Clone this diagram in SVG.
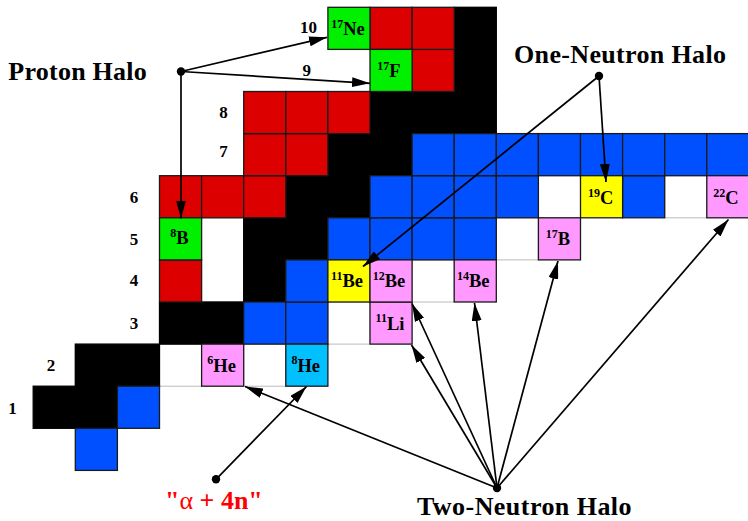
<svg xmlns="http://www.w3.org/2000/svg" width="748" height="521" viewBox="0 0 748 521">
<style>
.c{stroke:#1a1a1a;stroke-width:1.3}
.k{fill:#000;stroke:#000;stroke-width:1.3}
.w{fill:#fff;stroke:#bbb;stroke-width:1}
.b{fill:#0050ff}
.r{fill:#dd0000}
.g{fill:#00f000}
.y{fill:#ffff00}
.p{fill:#ff99ff}
.cy{fill:#00c0ff}
text{font-family:"Liberation Serif","Times New Roman",serif;font-weight:bold;fill:#000}
.lab{font-size:17px;text-anchor:middle}
.big{font-size:26px}
.nl{font-size:18.5px;text-anchor:middle}
.sup{font-size:12px}
.con line{stroke:#000;stroke-width:1.7}
</style>
<defs>
<marker id="ah" markerUnits="userSpaceOnUse" viewBox="0 0 18 10" refX="18" refY="5" markerWidth="18" markerHeight="10" orient="auto">
<path d="M0,0 L18,5 L0,10 z" fill="#000"/>
</marker>
</defs>
<g id="cells">
<rect class="w" x="201.6" y="217.8" width="42.1" height="84.2"/>
<rect class="w" x="159.5" y="344.1" width="42.1" height="42.1"/>
<rect class="w" x="243.7" y="344.1" width="42.1" height="42.1"/>
<rect class="w" x="327.9" y="302.0" width="42.1" height="42.1"/>
<rect class="w" x="412.1" y="259.9" width="42.1" height="42.1"/>
<rect class="w" x="496.3" y="217.8" width="42.1" height="42.1"/>
<rect class="w" x="538.4" y="175.7" width="42.1" height="42.1"/>
<rect class="w" x="664.7" y="175.7" width="42.1" height="42.1"/>
<g id="stable">
<rect class="k" x="33.2" y="386.2" width="84.2" height="42.1"/>
<rect class="k" x="75.3" y="344.1" width="84.2" height="42.1"/>
<rect class="k" x="159.5" y="302.0" width="84.2" height="42.1"/>
<rect class="k" x="243.7" y="259.9" width="42.1" height="42.1"/>
<rect class="k" x="243.7" y="217.8" width="84.2" height="42.1"/>
<rect class="k" x="285.8" y="175.7" width="84.2" height="42.1"/>
<rect class="k" x="327.9" y="133.6" width="84.2" height="42.1"/>
<rect class="k" x="370.0" y="91.5" width="126.3" height="42.1"/>
<rect class="k" x="454.2" y="7.3" width="42.1" height="84.2"/>
</g>
<rect class="c b" x="75.3" y="428.3" width="42.1" height="42.1"/>
<rect class="c b" x="117.4" y="386.2" width="42.1" height="42.1"/>
<rect class="c b" x="243.7" y="302.0" width="42.1" height="42.1"/>
<rect class="c b" x="285.8" y="302.0" width="42.1" height="42.1"/>
<rect class="c b" x="285.8" y="259.9" width="42.1" height="42.1"/>
<rect class="c b" x="327.9" y="217.8" width="42.1" height="42.1"/>
<rect class="c b" x="370.0" y="217.8" width="42.1" height="42.1"/>
<rect class="c b" x="412.1" y="217.8" width="42.1" height="42.1"/>
<rect class="c b" x="454.2" y="217.8" width="42.1" height="42.1"/>
<rect class="c b" x="370.0" y="175.7" width="42.1" height="42.1"/>
<rect class="c b" x="412.1" y="175.7" width="42.1" height="42.1"/>
<rect class="c b" x="454.2" y="175.7" width="42.1" height="42.1"/>
<rect class="c b" x="496.3" y="175.7" width="42.1" height="42.1"/>
<rect class="c b" x="622.6" y="175.7" width="42.1" height="42.1"/>
<rect class="c b" x="412.1" y="133.6" width="42.1" height="42.1"/>
<rect class="c b" x="454.2" y="133.6" width="42.1" height="42.1"/>
<rect class="c b" x="496.3" y="133.6" width="42.1" height="42.1"/>
<rect class="c b" x="538.4" y="133.6" width="42.1" height="42.1"/>
<rect class="c b" x="580.5" y="133.6" width="42.1" height="42.1"/>
<rect class="c b" x="622.6" y="133.6" width="42.1" height="42.1"/>
<rect class="c b" x="664.7" y="133.6" width="42.1" height="42.1"/>
<rect class="c b" x="706.8" y="133.6" width="42.1" height="42.1"/>
<rect class="c r" x="159.5" y="259.9" width="42.1" height="42.1"/>
<rect class="c r" x="159.5" y="175.7" width="42.1" height="42.1"/>
<rect class="c r" x="201.6" y="175.7" width="42.1" height="42.1"/>
<rect class="c r" x="243.7" y="175.7" width="42.1" height="42.1"/>
<rect class="c r" x="243.7" y="133.6" width="42.1" height="42.1"/>
<rect class="c r" x="285.8" y="133.6" width="42.1" height="42.1"/>
<rect class="c r" x="243.7" y="91.5" width="42.1" height="42.1"/>
<rect class="c r" x="285.8" y="91.5" width="42.1" height="42.1"/>
<rect class="c r" x="327.9" y="91.5" width="42.1" height="42.1"/>
<rect class="c r" x="412.1" y="49.4" width="42.1" height="42.1"/>
<rect class="c r" x="370.0" y="7.3" width="42.1" height="42.1"/>
<rect class="c r" x="412.1" y="7.3" width="42.1" height="42.1"/>
</g>
<g id="n-6He"><rect class="c p" x="201.6" y="344.1" width="42.1" height="42.1"/><text class="nl" x="221.6" y="371.6"><tspan class="sup" dy="-7.5">6</tspan><tspan dy="7.5">He</tspan></text></g>
<g id="n-8He"><rect class="c cy" x="285.8" y="344.1" width="42.1" height="42.1"/><text class="nl" x="305.8" y="371.6"><tspan class="sup" dy="-7.5">8</tspan><tspan dy="7.5">He</tspan></text></g>
<g id="n-11Li"><rect class="c p" x="370.0" y="302.0" width="42.1" height="42.1"/><text class="nl" x="390.0" y="329.5"><tspan class="sup" dy="-7.5">11</tspan><tspan dy="7.5">Li</tspan></text></g>
<g id="n-11Be"><rect class="c y" x="327.9" y="259.9" width="42.1" height="42.1"/><text class="nl" x="347.0" y="287.4"><tspan class="sup" dy="-7.5">11</tspan><tspan dy="7.5">Be</tspan></text></g>
<g id="n-12Be"><rect class="c p" x="370.0" y="259.9" width="42.1" height="42.1"/><text class="nl" x="389.0" y="287.4"><tspan class="sup" dy="-7.5">12</tspan><tspan dy="7.5">Be</tspan></text></g>
<g id="n-14Be"><rect class="c p" x="454.2" y="259.9" width="42.1" height="42.1"/><text class="nl" x="473.2" y="287.4"><tspan class="sup" dy="-7.5">14</tspan><tspan dy="7.5">Be</tspan></text></g>
<g id="n-8B"><rect class="c g" x="159.5" y="217.8" width="42.1" height="42.1"/><text class="nl" x="179.5" y="244.3"><tspan class="sup" dy="-7.5">8</tspan><tspan dy="7.5">B</tspan></text></g>
<g id="n-17B"><rect class="c p" x="538.4" y="217.8" width="42.1" height="42.1"/><text class="nl" x="558.0" y="245.3"><tspan class="sup" dy="-7.5">17</tspan><tspan dy="7.5">B</tspan></text></g>
<g id="n-19C"><rect class="c y" x="580.5" y="175.7" width="42.1" height="42.1"/><text class="nl" x="600.8" y="204.2"><tspan class="sup" dy="-7.5">19</tspan><tspan dy="7.5">C</tspan></text></g>
<g id="n-22C"><rect class="c p" x="706.8" y="175.7" width="42.1" height="42.1"/><text class="nl" x="726.0" y="204.2"><tspan class="sup" dy="-7.5">22</tspan><tspan dy="7.5">C</tspan></text></g>
<g id="n-17F"><rect class="c g" x="370.0" y="49.4" width="42.1" height="42.1"/><text class="nl" x="389.0" y="77.4"><tspan class="sup" dy="-7.5">17</tspan><tspan dy="7.5">F</tspan></text></g>
<g id="n-17Ne"><rect class="c g" x="327.9" y="7.3" width="42.1" height="42.1"/><text class="nl" x="348.0" y="35.3"><tspan class="sup" dy="-7.5">17</tspan><tspan dy="7.5">Ne</tspan></text></g>
<g id="rowlabels">
<text class="lab" x="12.5" y="414">1</text>
<text class="lab" x="51" y="371">2</text>
<text class="lab" x="134" y="329">3</text>
<text class="lab" x="134" y="286">4</text>
<text class="lab" x="134" y="245">5</text>
<text class="lab" x="134" y="203">6</text>
<text class="lab" x="223.5" y="157">7</text>
<text class="lab" x="223.5" y="118">8</text>
<text class="lab" x="306.7" y="76">9</text>
<text class="lab" x="308.5" y="33">10</text>
</g>
<g id="proton-halo"><text class="big" x="8.3" y="80" textLength="138.5" lengthAdjust="spacing">Proton Halo</text></g>
<g id="one-neutron-halo"><text class="big" x="514" y="63" textLength="212" lengthAdjust="spacing">One-Neutron Halo</text></g>
<g id="two-neutron-halo"><text class="big" x="417" y="515" textLength="214.5" lengthAdjust="spacing">Two-Neutron Halo</text></g>
<g id="alpha-4n"><text class="big" x="165" y="509" style="fill:#ff0000">"<tspan font-weight="normal">α</tspan> + 4n"</text></g>
<g id="connectors" class="con">
<line x1="181" y1="71.5" x2="327" y2="37.3" marker-end="url(#ah)"/>
<line x1="181" y1="71.5" x2="370" y2="83.3" marker-end="url(#ah)"/>
<line x1="181" y1="71.5" x2="181" y2="218.5" marker-end="url(#ah)"/>
<line x1="599" y1="76" x2="606" y2="182" marker-end="url(#ah)"/>
<line x1="599" y1="76" x2="363" y2="266.5" marker-end="url(#ah)"/>
<line x1="497" y1="488" x2="245" y2="386.5" marker-end="url(#ah)"/>
<line x1="497" y1="488" x2="411.5" y2="345" marker-end="url(#ah)"/>
<line x1="497" y1="488" x2="412" y2="303.5" marker-end="url(#ah)"/>
<line x1="497" y1="488" x2="474.5" y2="303" marker-end="url(#ah)"/>
<line x1="497" y1="488" x2="558" y2="261" marker-end="url(#ah)"/>
<line x1="497" y1="488" x2="728.5" y2="219.5" marker-end="url(#ah)"/>
<line x1="216" y1="479.3" x2="306.5" y2="386.5" marker-end="url(#ah)"/>
<circle cx="181" cy="71.5" r="4.2"/>
<circle cx="599" cy="76" r="4.2"/>
<circle cx="497" cy="488" r="4.2"/>
<circle cx="216" cy="479.3" r="4.2"/>
</g>
</svg>
